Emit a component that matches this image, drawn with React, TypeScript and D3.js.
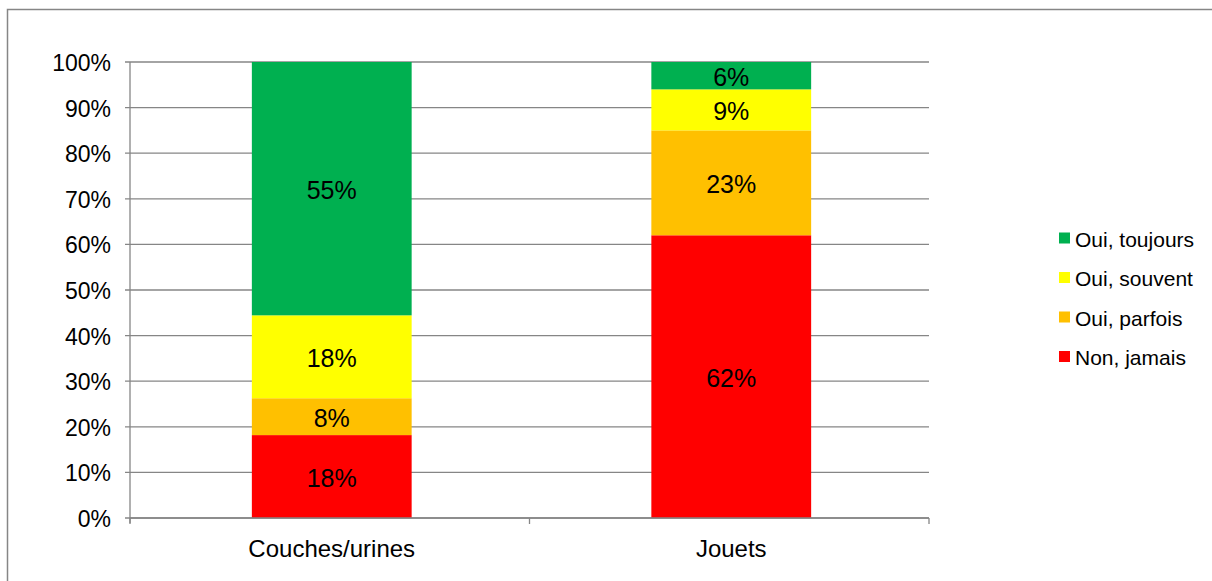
import React from "react";
import * as d3 from "d3";

// Categories and answer shares (percent) per category
const categories = ["Couches/urines", "Jouets"];
const seriesNames = ["Non, jamais", "Oui, parfois", "Oui, souvent", "Oui, toujours"];
const seriesColors = ["#FF0000", "#FFC000", "#FFFF00", "#00B050"];
const nonJamais = [18, 62];
const ouiParfois = [8, 23];
const ouiSouvent = [18, 9];
const ouiToujours = [55, 6];
const yTicks = [0, 0.1, 0.2, 0.3, 0.4, 0.5, 0.6, 0.7, 0.8, 0.9, 1];

const W = 1212;
const H = 581;
const FONT = "'Liberation Sans', Arial, sans-serif";
const GRID = "#868686";

export default function App() {
  const rows = categories.map((c, i) => ({
    cat: c,
    [seriesNames[0]]: nonJamais[i],
    [seriesNames[1]]: ouiParfois[i],
    [seriesNames[2]]: ouiSouvent[i],
    [seriesNames[3]]: ouiToujours[i],
  }));

  // 100% stacked layout
  const stack = d3
    .stack<any>()
    .keys(seriesNames)
    .offset(d3.stackOffsetExpand);
  const layers = stack(rows);

  const x0 = 130;
  const x1 = 929;

  const x = d3
    .scaleBand<string>()
    .domain(categories)
    .range([x0 + 2, x1 + 2])
    .paddingInner(0.6)
    .paddingOuter(0.3);
  const y = d3.scaleLinear().domain([0, 1]).range([518, 62]);

  // category boundaries for x-axis tick marks
  const xBoundaries = [x0, (x0 + x1) / 2, x1];

  return (
    <svg
      width={W}
      height={H}
      style={{ position: "fixed", left: 0, top: 0, background: "#fff" }}
      fontFamily={FONT}
    >
      {/* chart area frame */}
      <rect x={7.5} y={9.5} width={1300} height={700} fill="#fff" stroke={GRID} strokeWidth={1.5} />

      {/* horizontal gridlines + y ticks */}
      {yTicks.map((t) => (
        <g key={t}>
          <line x1={125} x2={x1} y1={y(t)} y2={y(t)} stroke={GRID} strokeWidth={1.3} />
          <text
            x={111}
            y={y(t) + 1}
            textAnchor="end"
            dominantBaseline="central"
            fontSize={23}
            fill="#000"
          >
            {d3.format(".0%")(t)}
          </text>
        </g>
      ))}

      {/* stacked bars */}
      {layers.map((layer, li) => (
        <g key={layer.key}>
          {layer.map((d, i) => {
            const cat = categories[i];
            const top = y(d[1]);
            const bot = y(d[0]);
            return (
              <g key={cat}>
                <rect
                  x={x(cat)}
                  y={top}
                  width={x.bandwidth()}
                  height={bot - top}
                  fill={seriesColors[li]}
                />
                <text
                  x={x(cat)! + x.bandwidth() / 2}
                  y={(top + bot) / 2 + 1}
                  textAnchor="middle"
                  dominantBaseline="central"
                  fontSize={25}
                  fill="#000"
                >
                  {(d.data as any)[layer.key]}%
                </text>
              </g>
            );
          })}
        </g>
      ))}

      {/* axes */}
      <line x1={x0} x2={x0} y1={62} y2={523} stroke={GRID} strokeWidth={1.3} />
      <line x1={x0} x2={x1} y1={518} y2={518} stroke={GRID} strokeWidth={1.3} />
      {xBoundaries.map((b, i) => (
        <line key={i} x1={b} x2={b} y1={518} y2={524} stroke={GRID} strokeWidth={1.3} />
      ))}
      {categories.map((c) => (
        <text
          key={c}
          x={x(c)! + x.bandwidth() / 2}
          y={548}
          textAnchor="middle"
          dominantBaseline="central"
          fontSize={24}
          fill="#000"
        >
          {c}
        </text>
      ))}

      {/* legend */}
      {seriesNames
        .slice()
        .reverse()
        .map((name, i) => {
          const idx = seriesNames.indexOf(name);
          const cy = 238 + i * 39.5;
          return (
            <g key={name}>
              <rect x={1059} y={cy - 5.5} width={11} height={11} fill={seriesColors[idx]} />
              <text x={1075} y={cy + 1} dominantBaseline="central" fontSize={21} fill="#000">
                {name}
              </text>
            </g>
          );
        })}
    </svg>
  );
}
